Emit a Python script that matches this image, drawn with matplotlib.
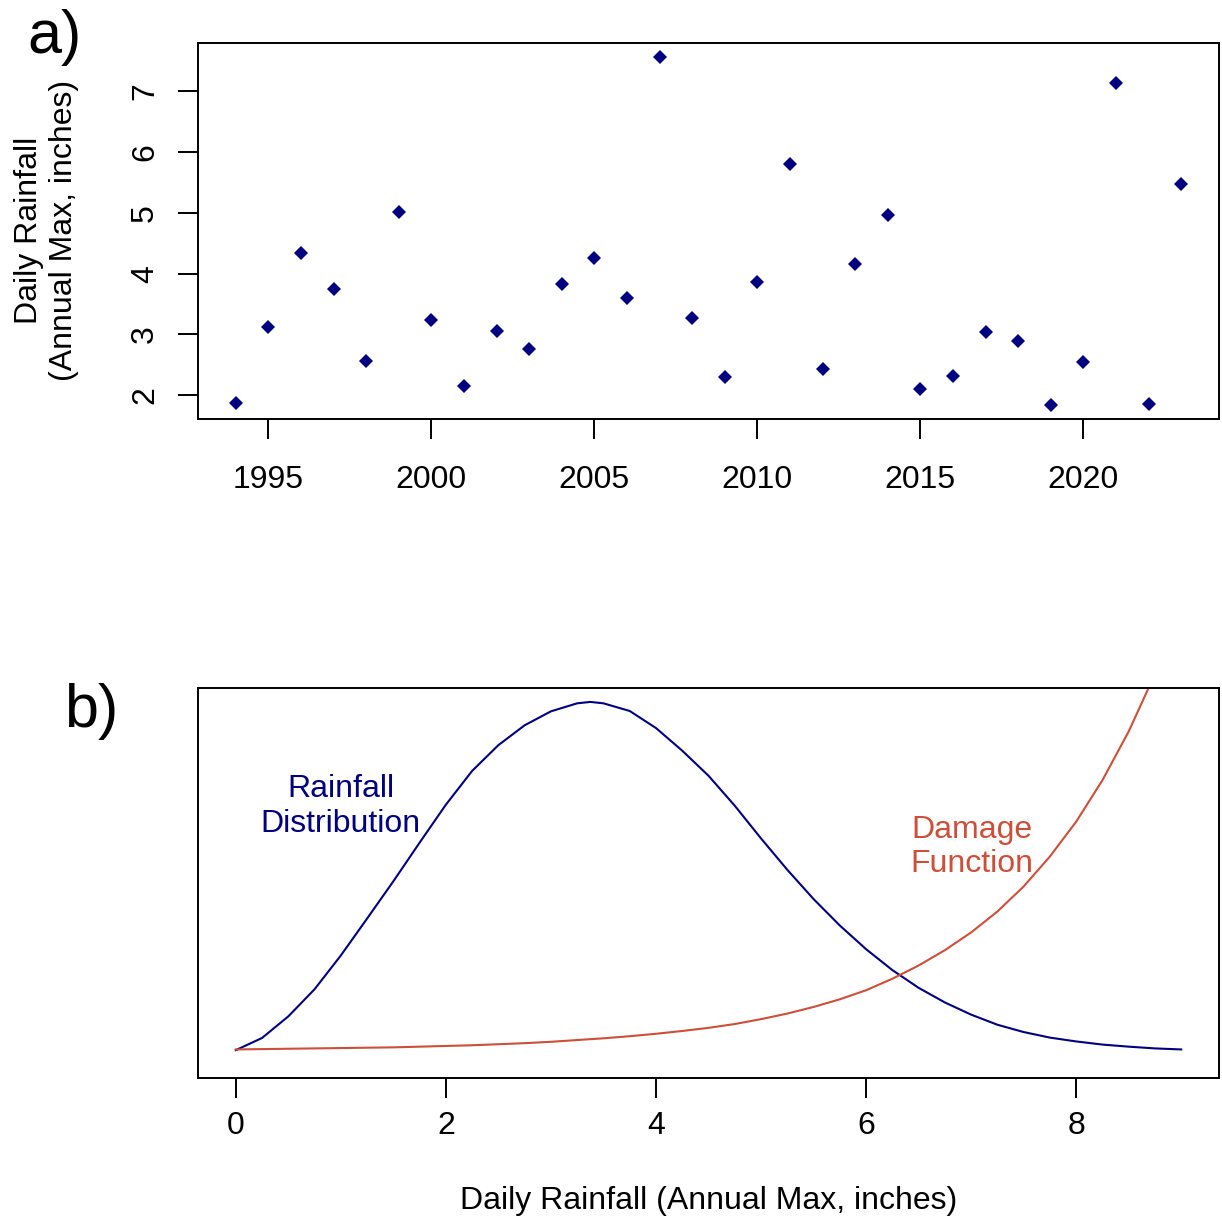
import matplotlib
matplotlib.use("Agg")
import matplotlib.pyplot as plt

plt.rcParams['font.family'] = ['Liberation Sans', 'DejaVu Sans']

# a) annual maximum daily rainfall (inches)
years = list(range(1994, 2024))
rain_max = [1.87, 3.13, 4.34, 3.74, 2.56, 5.01, 3.23, 2.16, 3.05, 2.76,
            3.83, 4.25, 3.60, 7.56, 3.27, 2.30, 3.86, 5.80, 2.44, 4.15,
            4.96, 2.10, 2.31, 3.04, 2.90, 1.84, 2.54, 7.13, 1.85, 5.47]
year_ticks = [1995, 2000, 2005, 2010, 2015, 2020]
rain_ticks = [2, 3, 4, 5, 6, 7]

# b) rainfall distribution and damage function (relative heights, no y scale)
dist_x = [0, 0.25, 0.5, 0.75, 1.0, 1.25, 1.5, 1.75, 2.0, 2.25, 2.5, 2.75,
          3.0, 3.25, 3.375, 3.5, 3.75, 4.0, 4.25, 4.5, 4.75, 5.0, 5.25, 5.5,
          5.75, 6.0, 6.25, 6.5, 6.75, 7.0, 7.25, 7.5, 7.75, 8.0, 8.25, 8.5,
          8.75, 9.0]
dist_y = [0.0, 0.035, 0.097, 0.175, 0.272, 0.378, 0.485, 0.596, 0.705, 0.802,
          0.876, 0.933, 0.973, 0.996, 1.0, 0.996, 0.974, 0.925, 0.860, 0.788,
          0.702, 0.608, 0.518, 0.434, 0.358, 0.290, 0.230, 0.179, 0.137, 0.102,
          0.073, 0.052, 0.036, 0.025, 0.016, 0.010, 0.005, 0.002]
dmg_x = [0, 0.25, 0.5, 0.75, 1.0, 1.25, 1.5, 1.75, 2.0, 2.25, 2.5, 2.75,
         3.0, 3.25, 3.5, 3.75, 4.0, 4.25, 4.5, 4.75, 5.0, 5.25, 5.5, 5.75,
         6.0, 6.25, 6.5, 6.75, 7.0, 7.25, 7.5, 7.75, 8.0, 8.25, 8.5, 8.75]
dmg_y = [0.002, 0.003, 0.004, 0.005, 0.006, 0.007, 0.008, 0.010, 0.012, 0.014,
         0.017, 0.020, 0.024, 0.029, 0.034, 0.040, 0.047, 0.055, 0.064, 0.075,
         0.089, 0.105, 0.124, 0.146, 0.172, 0.205, 0.243, 0.287, 0.338, 0.398,
         0.470, 0.556, 0.656, 0.775, 0.915, 1.08]
dist_ticks = [0, 2, 4, 6, 8]

navy = '#000080'
tomato = '#CD4F39'
fs = 23

fig = plt.figure(figsize=(12.22, 12.20), dpi=100)
W, H = 1222.0, 1220.0

def box(l, t, r, b):
    return [l / W, 1 - b / H, (r - l) / W, (b - t) / H]

# panel a
ax1 = fig.add_axes(box(198, 43, 1219, 419))
ax1.plot(years, rain_max, linestyle='none', marker='D', markersize=6.8,
         markeredgewidth=0, color=navy)
ax1.set_xlim(1992.84, 2024.16)
ax1.set_ylim(1.61, 7.79)
ax1.set_xticks(year_ticks)
ax1.set_yticks(rain_ticks)
ax1.tick_params(axis='both', labelsize=fs, length=14.4, width=1.4, pad=19)
ax1.tick_params(axis='y', labelrotation=90, pad=13)
for lab in ax1.get_yticklabels():
    lab.set_va('center')
for s in ax1.spines.values():
    s.set_linewidth(1.4)
fig.text(46.5 / W, 1 - 230 / H, 'Daily Rainfall\n(Annual Max, inches)',
         rotation=90, ha='center', va='center', fontsize=fs, linespacing=1.2)
fig.text(54 / W, 1 - 38 / H, 'a)', ha='center', va='center', fontsize=44)

# panel b
ax2 = fig.add_axes(box(198, 688, 1219, 1078))
ax2.plot(dist_x, dist_y, color=navy, linewidth=1.5)
ax2.plot(dmg_x, dmg_y, color=tomato, linewidth=1.5)
ax2.set_xlim(-0.36, 9.36)
ax2.set_ylim(-0.080, 1.040)
ax2.set_xticks(dist_ticks)
ax2.set_yticks([])
ax2.tick_params(axis='x', labelsize=fs, length=14.4, width=1.4, pad=9)
for s in ax2.spines.values():
    s.set_linewidth(1.4)
ax2.text(1.0, 0.70, 'Rainfall\nDistribution', color=navy, fontsize=fs,
         ha='center', va='center', linespacing=1.2)
ax2.text(7.01, 0.583, 'Damage\nFunction', color=tomato, fontsize=fs,
         ha='center', va='center', linespacing=1.2)
fig.text(708.5 / W, 1 - 1201 / H, 'Daily Rainfall (Annual Max, inches)',
         ha='center', va='center', fontsize=fs)
fig.text(91 / W, 1 - 712 / H, 'b)', ha='center', va='center', fontsize=44)

fig.savefig('out.png', dpi=100)
